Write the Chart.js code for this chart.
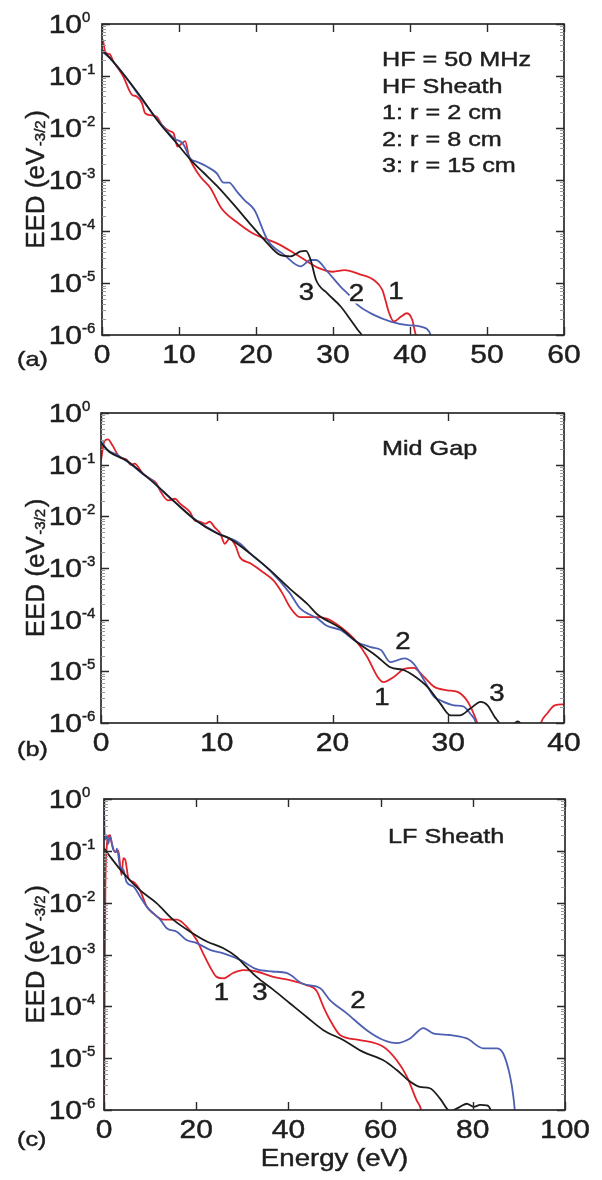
<!DOCTYPE html>
<html><head><meta charset="utf-8">
<script src="https://cdn.jsdelivr.net/npm/chart.js@4.4.0/dist/chart.umd.min.js"></script>
<style>
html,body{margin:0;padding:0;background:#fff;}
#wrap{position:relative;width:602px;height:1180px;overflow:hidden;background:#fff;}
canvas{position:absolute;left:0;}
</style></head><body>
<div id="wrap">
<canvas id="ca" width="602" height="390" style="top:0px"></canvas>
<canvas id="cb" width="602" height="390" style="top:390px"></canvas>
<canvas id="cc" width="602" height="400" style="top:780px"></canvas>
</div>
<script>
// ---------- tick labels ----------
const yTickExps = ['0','-1','-2','-3','-4','-5','-6'];
const xTicksA = [0,10,20,30,40,50,60];
const xTicksB = [0,10,20,30,40];
const xTicksC = [0,20,40,60,80,100];

// ---------- Panel (a): HF Sheath ----------
const aE1 = [0,0.1,0.35,0.65,1.0,1.5,2.2,2.8,3.5,3.9,4.5,5.2,5.6,6.3,7.1,7.8,8.7,9.3,9.8,10.4,10.8,11.3,11.9,12.8,14.1,15.5,17.5,19.5,21,23,25.8,28,30,31.5,33.5,35.3,36.4,37.3,37.9,38.8,39.6,40.3,40.7,41.0,41.3];
const aY1 = [3.55e-1,5.0e-1,3.16e-1,2.69e-1,2.63e-1,1.86e-1,1.32e-1,9.5e-2,5.4e-2,4.3e-2,4.0e-2,2.95e-2,1.9e-2,1.74e-2,1.62e-2,1.12e-2,8.7e-3,7.8e-3,4.3e-3,5.0e-3,5.5e-3,2.75e-3,1.78e-3,1.12e-3,6.8e-4,2.8e-4,1.51e-4,9.3e-5,7.4e-5,5.6e-5,3.16e-5,2.0e-5,1.66e-5,1.78e-5,1.48e-5,1.15e-5,7.4e-6,2.63e-6,1.82e-6,2.24e-6,2.63e-6,1.95e-6,1.07e-6,7.9e-7,3.2e-7];
const aE2 = [0,1.0,2.8,5.0,7.5,9.5,10.2,10.6,11.5,12.3,13.6,14.9,15.8,16.5,17.5,18.5,19.8,21.5,23.7,25.8,27.1,27.8,29.3,31.0,32.1,33.2,35.3,37.5,39.7,41.4,42.7,43.2];
const aY2 = [2.95e-1,2.19e-1,1.07e-1,3.8e-2,1.26e-2,6.0e-3,5.4e-3,4.7e-3,2.5e-3,2.2e-3,1.78e-3,1.32e-3,8.7e-4,8.7e-4,5.9e-4,4.0e-4,2.57e-4,6.8e-5,3.47e-5,2.1e-5,2.8e-5,2.8e-5,1.66e-5,8.5e-6,5.9e-6,3.8e-6,2.45e-6,1.82e-6,1.55e-6,1.45e-6,1.0e-6,5e-7];
const aE3 = [0,1.0,2.8,5.0,7.5,9.7,11.5,13.2,14.9,17.2,19.2,21.1,23.2,24.5,25.8,26.5,27.1,27.8,29.3,31.0,32.3,33.2,33.8,34.3];
const aY3 = [3.16e-1,2.24e-1,1.07e-1,4.0e-2,1.2e-2,5.0e-3,2.4e-3,1.35e-3,7.6e-4,3.16e-4,1.41e-4,6.8e-5,3.47e-5,3.3e-5,4.1e-5,4.2e-5,2.8e-5,1.15e-5,6.3e-6,3.55e-6,1.95e-6,1.26e-6,9.5e-7,5e-7];

// ---------- Panel (b): Mid Gap ----------
const bE1 = [0,0.3,0.6,1.0,1.6,2.2,2.6,2.9,3.6,4.2,4.8,5.1,5.8,6.4,6.8,7.7,8.1,8.5,9.0,9.4,9.8,10.3,10.7,11.1,11.6,12.0,12.9,14.0,14.9,15.7,16.3,17.2,18.7,19.5,20.7,22.1,23.0,23.9,24.4,25.3,26.2,27.0,27.9,28.8,29.9,30.8,31.6,32.2,32.5,33.0,37.5,38.0,38.6,39.2,40.0];
const bY1 = [1.2e-1,2.88e-1,3.1e-1,2.34e-1,1.41e-1,1.26e-1,9.8e-2,1.05e-1,6.8e-2,5.4e-2,4.3e-2,3.16e-2,2.04e-2,2.19e-2,1.78e-2,1.2e-2,8.3e-3,7.9e-3,7.2e-3,7.9e-3,6.2e-3,4.7e-3,2.95e-3,3.7e-3,2.75e-3,1.62e-3,1.23e-3,8.3e-4,5.75e-4,3.16e-4,1.78e-4,1.12e-4,1.12e-4,1.05e-4,7.2e-5,3.7e-5,1.9e-5,7.8e-6,6.2e-6,7.8e-6,1.12e-5,1.17e-5,7.8e-6,5.0e-6,4.3e-6,4.0e-6,2.75e-6,1.51e-6,1.0e-6,3.2e-7,3.2e-7,1.0e-6,1.58e-6,2.2e-6,2.3e-6];
const bE2 = [0,0.5,1.5,2.5,3.6,4.5,5.1,6.5,8.2,10.0,11.1,12.0,12.9,14.6,16.3,17.2,18.7,19.5,20.7,22.1,23.3,24.2,25.0,26.2,27.0,27.9,28.8,29.3,30.5,31.3,31.9,32.4,32.8];
const bY2 = [2.88e-1,2.0e-1,1.51e-1,1.05e-1,6.6e-2,4.8e-2,3.4e-2,1.78e-2,8.5e-3,4.8e-3,3.8e-3,3.0e-3,1.9e-3,8.9e-4,3.3e-4,1.66e-4,1.05e-4,7.6e-5,6.3e-5,3.7e-5,2.95e-5,2.57e-5,1.51e-5,1.78e-5,1.41e-5,6.8e-6,3.16e-6,2.75e-6,2.2e-6,2.1e-6,1.51e-6,1.0e-6,3.2e-7];
const bE3 = [0,0.7,2.2,3.6,5.1,6.5,8.2,10.0,11.1,12.9,14.6,16.3,17.8,18.7,20.7,22.1,23.9,25.0,26.2,27.0,28.2,29.3,30.2,31.0,31.9,32.8,33.4,34.0,34.4,35.0,35.6,36.0,36.4,37.0];
const bY3 = [2.63e-1,1.78e-1,1.2e-1,6.8e-2,3.47e-2,1.78e-2,8.3e-3,4.7e-3,3.7e-3,1.9e-3,9.1e-4,4.0e-4,2.04e-4,1.26e-4,6.8e-5,3.7e-5,1.9e-5,1.2e-5,1.05e-5,8.3e-6,5.0e-6,2.4e-6,1.41e-6,1.41e-6,1.9e-6,2.57e-6,2.2e-6,1.32e-6,1.0e-6,5e-7,8.9e-7,1.07e-6,8.9e-7,5e-7];

// ---------- Panel (c): LF Sheath ----------
const cE1 = [0,0.15,0.3,0.6,0.9,1.3,1.7,2.4,3.1,3.8,4.2,4.6,5.3,6.4,7.8,9.3,10.7,12.9,15.8,17.9,20.1,21.5,23.0,24.4,25.9,28.0,30.2,33.1,36.7,40.3,43.9,46.1,47.6,49.0,51.2,55.5,60.6,63.5,65.7,67.8,68.8,69.5];
const cY1 = [1e-7,3.2e-4,2.04e-2,1.2e-1,1.86e-1,2.0e-1,1.38e-1,9.5e-2,1.02e-1,3.4e-2,7.2e-2,6.8e-2,2.95e-2,2.5e-2,1.74e-2,8.3e-3,6.2e-3,4.7e-3,4.7e-3,3.47e-3,1.9e-3,1.05e-3,5.75e-4,3.7e-4,3.47e-4,4.4e-4,5.0e-4,4.7e-4,3.7e-4,3.2e-4,2.57e-4,2.0e-4,9.8e-5,5.5e-5,2.8e-5,2.24e-5,1.66e-5,9.1e-6,4.4e-6,1.55e-6,1.0e-6,4e-7];
const cE2 = [0,0.2,0.6,0.9,1.3,2.0,2.6,2.8,3.5,4.2,4.9,6.4,7.8,9.3,10.7,12.2,13.6,15.8,17.9,20.1,23.0,25.9,29.6,33.1,36.5,39.6,43.2,46.9,49.0,52.6,57.0,60.6,63.5,66.4,69.3,71.4,75.1,78.7,82.3,85.2,86.6,88.1,88.8,89.1,89.4];
const cY2 = [7.9e-1,1.62e-1,2.0e-1,1.35e-1,1.9e-1,1.05e-1,9.5e-2,1.1e-1,4.9e-2,4.3e-2,2.5e-2,2.04e-2,1.32e-2,8.3e-3,6.2e-3,4.7e-3,3.2e-3,2.75e-3,1.9e-3,1.66e-3,1.23e-3,1.05e-3,7.8e-4,5.2e-4,4.7e-4,4.4e-4,2.7e-4,2.24e-4,1.32e-4,7.4e-5,3.47e-5,2.24e-5,1.95e-5,2.4e-5,3.8e-5,3.0e-5,2.8e-5,2.4e-5,1.55e-5,1.55e-5,1.23e-5,4.4e-6,1.82e-6,1.0e-6,4e-7];
const cE3 = [0,1.3,4.2,7.8,11.4,15.0,18.7,22.3,25.9,28.7,30.9,33.1,36.7,40.3,43.9,47.6,51.9,56.2,60.6,63.5,66.4,68.5,70.7,72.9,75.1,77.2,78.7,80.2,81.6,83.0,84.0,84.5];
const cY3 = [1.12e-1,7.8e-2,3.7e-2,1.74e-2,9.8e-3,4.7e-3,2.75e-3,1.78e-3,1.32e-3,9.1e-4,5.75e-4,3.7e-4,2.1e-4,1.15e-4,6.3e-5,3.47e-5,2.24e-5,1.32e-5,9.1e-6,5.9e-6,3.55e-6,2.8e-6,2.63e-6,1.66e-6,9.5e-7,1.15e-6,1.32e-6,1.15e-6,1.26e-6,1.23e-6,8.9e-7,4e-7];

// ---------- styling ----------
const RED = '#e1222a', BLUE = '#4d5fb2', BLACK = '#1c1c1c', INK = '#1e1e1e';
const FONT = '"Liberation Sans", Arial, Helvetica, sans-serif';
const SX = 1.2;

function pts(E, V) { return E.map((e, i) => ({ x: e, y: V[i] })); }
function ds(E, V, color) {
  return { data: pts(E, V), borderColor: color, borderWidth: 1.8, pointRadius: 0,
           fill: false, cubicInterpolationMode: 'monotone' };
}
function txt(ctx, s, x, y, size, align, sx) {
  ctx.save();
  ctx.font = size + 'px ' + FONT;
  ctx.textBaseline = 'alphabetic';
  ctx.textAlign = align || 'left';
  ctx.fillStyle = INK; ctx.strokeStyle = INK; ctx.lineWidth = 0.45;
  ctx.translate(x, y);
  ctx.scale(sx == null ? SX : sx, 1);
  ctx.fillText(s, 0, 0);
  ctx.strokeText(s, 0, 0);
  ctx.restore();
}
function lbl(ctx, s, x, y, size, knock) {
  ctx.save();
  ctx.font = size + 'px ' + FONT;
  ctx.textBaseline = 'middle';
  ctx.textAlign = 'center';
  ctx.translate(x, y);
  ctx.scale(SX, 1);
  if (knock) { ctx.lineWidth = 5; ctx.strokeStyle = '#fff'; ctx.lineJoin = 'round'; ctx.strokeText(s, 0, 0); }
  ctx.fillStyle = INK; ctx.strokeStyle = INK; ctx.lineWidth = 0.45;
  ctx.fillText(s, 0, 0);
  ctx.strokeText(s, 0, 0);
  ctx.restore();
}

function makePlugin(cfg) {
  return {
    id: 'frame_' + cfg.id,
    afterDraw(chart) {
      const ctx = chart.ctx, a = chart.chartArea, xs = chart.scales.x, ys = chart.scales.y;
      const off = cfg.top;
      ctx.save();
      ctx.strokeStyle = '#2a2a2a'; ctx.lineWidth = 1.7;
      ctx.strokeRect(a.left, a.top, a.right - a.left, a.bottom - a.top);
      ctx.lineWidth = 1.4;
      ctx.beginPath();
      cfg.xTicks.forEach(v => {
        const px = Math.round(xs.getPixelForValue(v)) + 0.5;
        ctx.moveTo(px, a.bottom); ctx.lineTo(px, a.bottom - 8);
        ctx.moveTo(px, a.top); ctx.lineTo(px, a.top + 8);
      });
      yTickExps.forEach(e => {
        const py = Math.round(ys.getPixelForValue(Math.pow(10, +e))) + 0.5;
        ctx.moveTo(a.left, py); ctx.lineTo(a.left + 8, py);
        ctx.moveTo(a.right, py); ctx.lineTo(a.right - 8, py);
      });
      ctx.stroke();
      ctx.strokeStyle = '#9a9a9a'; ctx.lineWidth = 1;
      ctx.beginPath();
      for (let k = -6; k < 0; k++) {
        for (let m = 2; m <= 9; m++) {
          const py = Math.round(ys.getPixelForValue(m * Math.pow(10, k))) + 0.5;
          ctx.moveTo(a.left, py); ctx.lineTo(a.left + 4, py);
          ctx.moveTo(a.right, py); ctx.lineTo(a.right - 4, py);
        }
      }
      ctx.stroke();
      ctx.restore();

      cfg.xTicks.forEach(v => {
        txt(ctx, String(v), xs.getPixelForValue(v), a.bottom + 28, 25, 'center');
      });
      yTickExps.forEach(e => {
        const py = ys.getPixelForValue(Math.pow(10, +e));
        txt(ctx, '10', 82, py + 9, 25, 'right');
        txt(ctx, e, 82, py - 2, 15, 'left', 1.0);
      });
      // y axis title (rotated)
      const cy = (a.top + a.bottom) / 2;
      ctx.save();
      ctx.translate(44, cy);
      ctx.rotate(-Math.PI / 2);
      ctx.fillStyle = INK; ctx.strokeStyle = INK; ctx.lineWidth = 0.45;
      ctx.textBaseline = 'alphabetic';
      ctx.textAlign = 'left';
      const main = 'EED (eV', sup = '-3/2', close = ')';
      ctx.font = '26px ' + FONT; const w1 = ctx.measureText(main).width, w3 = ctx.measureText(close).width;
      ctx.font = '15px ' + FONT; const w2 = ctx.measureText(sup).width;
      const x0 = -(w1 + w2 + w3 + 3) / 2;
      ctx.font = '26px ' + FONT; ctx.fillText(main, x0, 0); ctx.strokeText(main, x0, 0);
      ctx.font = '15px ' + FONT; ctx.fillText(sup, x0 + w1 + 1.5, 1); ctx.strokeText(sup, x0 + w1 + 1.5, 1);
      ctx.font = '26px ' + FONT; ctx.fillText(close, x0 + w1 + w2 + 3, 0); ctx.strokeText(close, x0 + w1 + w2 + 3, 0);
      ctx.restore();
      txt(ctx, cfg.letter, 17, cfg.letterY - off, 21, 'left');
      cfg.notes.forEach(n => txt(ctx, n[0], n[1], n[2] - off, 21, 'left'));
      cfg.labels.forEach(n => lbl(ctx, n[0], n[1], n[2] - off, 23, n[3]));
      if (cfg.xTitle) txt(ctx, cfg.xTitle, (a.left + a.right) / 2, 1166 - off, 23, 'center');
    }
  };
}

function makeChart(id, xMax, datasets, cfg) {
  return new Chart(document.getElementById(id), {
    type: 'line',
    data: { datasets },
    options: {
      responsive: false, animation: false, events: [],
      layout: { padding: cfg.pad },
      plugins: { legend: { display: false }, tooltip: { enabled: false } },
      scales: {
        x: { type: 'linear', min: 0, max: xMax, display: false },
        y: { type: 'logarithmic', min: 1e-6, max: 1, display: false }
      }
    },
    plugins: [makePlugin(cfg)]
  });
}

makeChart('ca', 60, [ds(aE3, aY3, BLACK), ds(aE2, aY2, BLUE), ds(aE1, aY1, RED)], {
  id: 'a', top: 0, xTicks: xTicksA,
  pad: { left: 102, right: 38, top: 24, bottom: 55 },
  letter: '(a)', letterY: 366,
  notes: [['HF = 50 MHz', 382, 66], ['HF Sheath', 382, 92.5], ['1: r = 2 cm', 382, 119], ['2: r = 8 cm', 382, 145.5], ['3: r = 15 cm', 382, 172]],
  labels: [['3', 306.5, 294, false], ['2', 356.5, 295, true], ['1', 396, 293, false]]
});
makeChart('cb', 40, [ds(bE3, bY3, BLACK), ds(bE2, bY2, BLUE), ds(bE1, bY1, RED)], {
  id: 'b', top: 390, xTicks: xTicksB,
  pad: { left: 101, right: 38, top: 23, bottom: 57 },
  letter: '(b)', letterY: 756,
  notes: [['Mid Gap', 382, 455]],
  labels: [['2', 403, 643, false], ['1', 382, 699, false], ['3', 497, 695, false]]
});
makeChart('cc', 100, [ds(cE3, cY3, BLACK), ds(cE2, cY2, BLUE), ds(cE1, cY1, RED)], {
  id: 'c', top: 780, xTicks: xTicksC,
  pad: { left: 104, right: 37, top: 19, bottom: 70 },
  letter: '(c)', letterY: 1146,
  notes: [['LF Sheath', 388, 843]],
  labels: [['1', 221.5, 994, false], ['3', 260, 994, false], ['2', 358, 1002, false]],
  xTitle: 'Energy (eV)'
});
</script>
</body></html>
